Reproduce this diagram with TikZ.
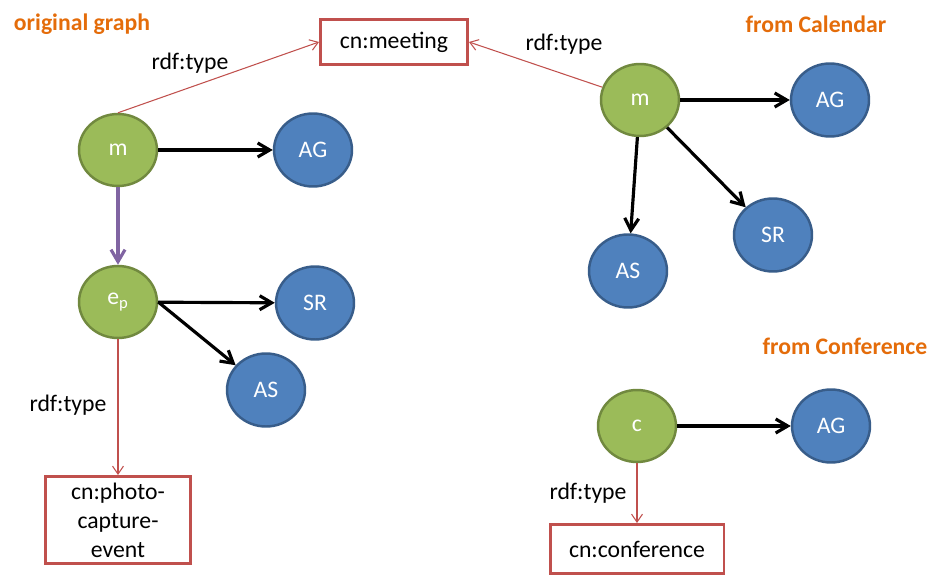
\documentclass[tikz,border=0pt]{standalone}
\usepackage{fontspec}
\setmainfont{Carlito}
\usetikzlibrary{shapes.geometric,arrows.meta}

\definecolor{evgreen}{HTML}{9BBB59}
\definecolor{evgreenline}{HTML}{71893F}
\definecolor{agblue}{HTML}{4F81BD}
\definecolor{agblueline}{HTML}{385D8A}
\definecolor{typered}{HTML}{C0504D}
\definecolor{linkpurple}{HTML}{8064A2}
\definecolor{titleorange}{HTML}{E46C0A}

\begin{document}
\begin{tikzpicture}[x=0.02cm,y=-0.02cm,
	every node/.style={font=\fontsize{13.5}{16.5}\selectfont},
	event/.style={ellipse,draw=evgreenline,fill=evgreen,line width=1.4pt,minimum width=1.56cm,minimum height=1.44cm,inner sep=0pt,text=white},
	agent/.style={ellipse,draw=agblueline,fill=agblue,line width=1.4pt,minimum width=1.56cm,minimum height=1.46cm,inner sep=0pt,text=white},
	typebox/.style={draw=typered,line width=1.7pt,fill=white,align=center,inner sep=2pt},
	title/.style={text=titleorange,font=\fontsize{13.5}{16.5}\selectfont\bfseries},
	rel/.style={line width=1.8pt,-{Straight Barb[length=0.24cm,width=0.28cm]}},
	sub/.style={linkpurple,line width=1.8pt,-{Straight Barb[length=0.24cm,width=0.28cm]}},
	typeof/.style={typered,line width=0.6pt,-{Straight Barb[length=0.16cm,width=0.22cm]}}]
		\useasboundingbox (0,0) rectangle (946,577);
		% original graph
		\node[title] (origT) at (82,24) {original graph};
		\node[typebox,minimum width=2.94cm,minimum height=0.9cm] (meeting) at (394,42) {cn:meeting};
		\node[event] (m1) at (118,150) {m};
		\node[agent] (ag1) at (313,150) {AG};
		\node[event] (ep) at (118,302) {e\textsubscript{p}};
		\node[agent] (sr1) at (315,303) {SR};
		\node[agent] (as1) at (266,390) {AS};
		\node[typebox,minimum width=2.92cm,minimum height=1.74cm] (photo) at (118,520) {cn:photo-\\capture-\\event};
		\node (lbl1) at (190,63) {rdf:type};
		\node (lbl2) at (68,405) {rdf:type};
		\draw[rel] (m1) -- (ag1);
		\draw[sub] (m1) -- (ep);
		\draw[rel] (ep) -- (sr1);
		\draw[rel] (ep.east) -- (as1);
		\draw[typeof] (m1.north) -- (meeting.west);
		\draw[typeof] (ep) -- (photo);
		% from Calendar
		\node[title] (calT) at (816,24) {from Calendar};
		\node[event] (m2) at (640,100) {m};
		\node[agent] (ag2) at (830,100) {AG};
		\node[agent] (sr2) at (773,235) {SR};
		\node[agent] (as2) at (628,271) {AS};
		\node (lbl3) at (564,44) {rdf:type};
		\draw[rel] (m2) -- (ag2);
		\draw[rel] (m2) -- (sr2);
		\draw[rel] (m2) -- (as2);
		\draw[typeof] (m2) -- (meeting.east);
		% from Conference
		\node[title] (confT) at (845,346) {from Conference};
		\node[event] (c) at (637,426) {c};
		\node[agent] (ag3) at (831,426) {AG};
		\node[typebox,minimum width=3.48cm,minimum height=0.98cm] (conf) at (637,549) {cn:conference};
		\node (lbl4) at (588,493) {rdf:type};
		\draw[rel] (c) -- (ag3);
		\draw[typeof] (c) -- (conf);
	\end{tikzpicture}
\end{document}
